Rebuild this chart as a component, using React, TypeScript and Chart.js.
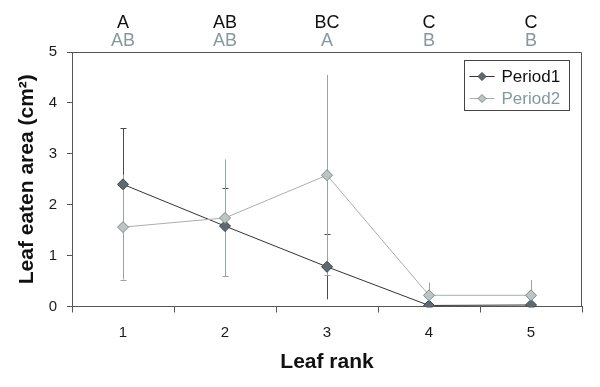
import React, { useEffect, useRef } from "react";
import { Chart, registerables } from "chart.js";

Chart.register(...registerables);

const categories = ["1", "2", "3", "4", "5"];
const period1 = [2.4, 1.58, 0.78, 0.02, 0.03];
const period1Err = [1.1, 0.75, 0.64, 0.0, 0.0];
const period2 = [1.56, 1.74, 2.58, 0.22, 0.22];
const period2Err = [1.03, 1.15, 1.97, 0.25, 0.3];
const lettersPeriod1 = ["A", "AB", "BC", "C", "C"];
const lettersPeriod2 = ["AB", "AB", "A", "B", "B"];
const yTicks = [0, 1, 2, 3, 4, 5];

const FONT = "'Liberation Sans', Arial, sans-serif";
const AXIS = "#555555";
const P1_LINE = "#333333";
const P1_FILL = "#5d6b70";
const P1_BORDER = "#3b4649";
const P1_ERR = "#4a4a4a";
const P2_LINE = "#a8aeae";
const P2_FILL = "#bcc5c4";
const P2_BORDER = "#7d8888";
const P2_ERR = "#9aa3a3";
const P2_TEXT = "#8598a0";

const errorBarsPlugin = {
  id: "errorBars",
  beforeDatasetsDraw(chart: any) {
    const { ctx, scales } = chart;
    const xs = scales.x;
    const ys = scales.y;
    const drawSet = (vals: number[], errs: number[], color: string, capTop: boolean, capBottom: boolean) => {
      ctx.save();
      ctx.strokeStyle = color;
      ctx.lineWidth = 1;
      vals.forEach((v, i) => {
        const e = errs[i];
        if (!e) return;
        const x = Math.round(xs.getPixelForValue(i)) + 0.5;
        const yt = ys.getPixelForValue(v + e);
        const yb = ys.getPixelForValue(Math.max(0, v - e));
        ctx.beginPath();
        ctx.moveTo(x, yt);
        ctx.lineTo(x, yb);
        if (capTop) {
          ctx.moveTo(x - 3, Math.round(yt) + 0.5);
          ctx.lineTo(x + 3, Math.round(yt) + 0.5);
        }
        if (capBottom) {
          ctx.moveTo(x - 3, Math.round(yb) + 0.5);
          ctx.lineTo(x + 3, Math.round(yb) + 0.5);
        }
        ctx.stroke();
      });
      ctx.restore();
    };
    drawSet(period1, period1Err, P1_ERR, true, false);
    drawSet(period2, period2Err, P2_ERR, false, true);
  },
};

const framePlugin = {
  id: "frame",
  beforeDatasetsDraw(chart: any) {
    const { ctx, chartArea } = chart;
    ctx.save();
    ctx.strokeStyle = AXIS;
    ctx.lineWidth = 1;
    ctx.beginPath();
    const l = Math.round(chartArea.left) + 0.5;
    const r = Math.round(chartArea.right) - 0.5;
    const t = Math.round(chartArea.top) + 0.5;
    const b = Math.round(chartArea.bottom);
    ctx.moveTo(l, t);
    ctx.lineTo(r, t);
    ctx.lineTo(r, b);
    ctx.stroke();
    ctx.restore();
  },
};

const drawDiamond = (ctx: any, x: number, y: number, r: number, fill: string, stroke: string) => {
  ctx.beginPath();
  ctx.moveTo(x, y - r);
  ctx.lineTo(x + r, y);
  ctx.lineTo(x, y + r);
  ctx.lineTo(x - r, y);
  ctx.closePath();
  ctx.fillStyle = fill;
  ctx.fill();
  ctx.strokeStyle = stroke;
  ctx.lineWidth = 1;
  ctx.stroke();
};

const annotationsPlugin = {
  id: "annotations",
  afterDraw(chart: any) {
    const { ctx, chartArea, scales } = chart;
    const xs = scales.x;
    ctx.save();
    ctx.font = `18px ${FONT}`;
    ctx.textAlign = "center";
    ctx.textBaseline = "middle";
    categories.forEach((_, i) => {
      const x = xs.getPixelForValue(i);
      ctx.fillStyle = "#111111";
      ctx.fillText(lettersPeriod1[i], x, chartArea.top - 29);
      ctx.fillStyle = P2_TEXT;
      ctx.fillText(lettersPeriod2[i], x, chartArea.top - 11);
    });

    // legend
    const bx = Math.round(chartArea.right) - 117.5;
    const by = Math.round(chartArea.top) + 8.5;
    const bw = 105;
    const bh = 50;
    ctx.strokeStyle = "#444444";
    ctx.lineWidth = 1;
    ctx.strokeRect(bx, by, bw, bh);
    const entries = [
      { label: "Period1", line: P1_LINE, fill: P1_FILL, border: P1_BORDER, text: "#111111", dy: 16 },
      { label: "Period2", line: P2_LINE, fill: P2_FILL, border: P2_BORDER, text: P2_TEXT, dy: 38 },
    ];
    entries.forEach((e) => {
      const y = by + e.dy;
      ctx.strokeStyle = e.line;
      ctx.beginPath();
      ctx.moveTo(bx + 5, y);
      ctx.lineTo(bx + 30, y);
      ctx.stroke();
      drawDiamond(ctx, bx + 17.5, y, 4, e.fill, e.border);
      ctx.fillStyle = e.text;
      ctx.font = `17px ${FONT}`;
      ctx.textAlign = "left";
      ctx.textBaseline = "middle";
      ctx.fillText(e.label, bx + 37, y + 1);
    });
    ctx.restore();
  },
};

export default function App() {
  const canvasRef = useRef<HTMLCanvasElement | null>(null);

  useEffect(() => {
    if (!canvasRef.current) return;
    const chart = new Chart(canvasRef.current, {
      type: "line",
      data: {
        labels: categories,
        datasets: [
          {
            label: "Period2",
            data: period2,
            borderColor: P2_LINE,
            borderWidth: 1,
            pointStyle: "rectRot",
            pointRadius: 5.5,
            pointBackgroundColor: P2_FILL,
            pointBorderColor: P2_BORDER,
            pointBorderWidth: 1,
            tension: 0,
          },
          {
            label: "Period1",
            data: period1,
            borderColor: P1_LINE,
            borderWidth: 1,
            pointStyle: "rectRot",
            pointRadius: 5.5,
            pointBackgroundColor: P1_FILL,
            pointBorderColor: P1_BORDER,
            pointBorderWidth: 1,
            tension: 0,
          },
        ],
      },
      options: {
        animation: false,
        responsive: true,
        maintainAspectRatio: false,
        layout: { padding: { top: 52, right: 18, left: 0, bottom: 0 } },
        plugins: {
          legend: { display: false },
          tooltip: { enabled: false },
        },
        scales: {
          x: {
            type: "category",
            offset: true,
            grid: {
              offset: true,
              drawOnChartArea: false,
              drawTicks: true,
              tickLength: 6,
              color: AXIS,
            },
            border: { display: true, color: AXIS },
            ticks: {
              color: "#1a1a1a",
              font: { family: FONT, size: 15 },
              padding: 11,
            },
            title: {
              display: true,
              text: "Leaf rank",
              color: "#111111",
              font: { family: FONT, size: 21, weight: "bold" },
              padding: { top: 0, bottom: 12 },
            },
            afterFit: (s: any) => {
              s.height = 80.5;
            },
          },
          y: {
            min: 0,
            max: 5,
            afterBuildTicks: (s: any) => {
              s.ticks = yTicks.map((v) => ({ value: v }));
            },
            grid: {
              drawOnChartArea: false,
              drawTicks: true,
              tickLength: 5,
              color: AXIS,
            },
            border: { display: true, color: AXIS },
            ticks: {
              color: "#1a1a1a",
              font: { family: FONT, size: 15 },
              padding: 10,
            },
            title: {
              display: true,
              text: "Leaf eaten area (cm²)",
              color: "#111111",
              font: { family: FONT, size: 21, weight: "bold" },
              padding: { top: 15, bottom: 0 },
            },
            afterFit: (s: any) => {
              s.width = 72;
            },
          },
        },
      },
      plugins: [framePlugin, errorBarsPlugin, annotationsPlugin],
    });
    return () => chart.destroy();
  }, []);

  return (
    <div style={{ position: "fixed", left: 0, top: 0, width: 600, height: 387, background: "#ffffff" }}>
      <canvas ref={canvasRef} />
    </div>
  );
}
